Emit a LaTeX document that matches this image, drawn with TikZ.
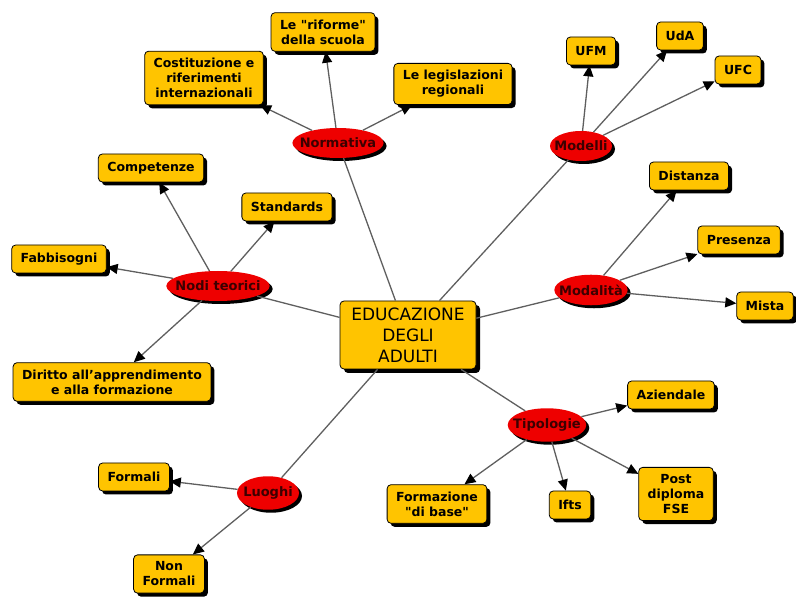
\documentclass[tikz,border=0pt]{standalone}
\usepackage{fontspec}
\setmainfont{DejaVu Sans}
\usetikzlibrary{shapes.geometric,shadows,arrows.meta}

\definecolor{boxyellow}{RGB}{255,196,0}
\definecolor{hubred}{RGB}{238,0,0}
\definecolor{hubtext}{RGB}{60,0,0}
\definecolor{linkgray}{RGB}{95,95,95}

\tikzset{
  leaf/.style={rectangle, rounded corners=4pt, draw=black, line width=0.8pt,
    fill=boxyellow, align=center, inner xsep=9pt, inner ysep=7pt,
    minimum height=28pt, font=\fontsize{12.5}{15}\selectfont\bfseries,
    drop shadow={shadow xshift=3.5pt, shadow yshift=-3.5pt, opacity=1, fill=black}},
  hub/.style={ellipse, fill=hubred, text=hubtext, inner xsep=-6pt, inner ysep=5.5pt,
    minimum width=62pt, minimum height=30pt, font=\fontsize{13}{15}\selectfont\bfseries,
    drop shadow={shadow xshift=3pt, shadow yshift=-3pt, opacity=1, fill=black}},
  root/.style={rectangle, rounded corners=4pt, draw=black, line width=0.8pt,
    fill=boxyellow, align=center, minimum width=136pt, minimum height=68pt,
    font=\fontsize{17}{21}\selectfont,
    drop shadow={shadow xshift=4pt, shadow yshift=-4pt, opacity=1, fill=black}},
  link/.style={draw=linkgray, line width=1.3pt},
  arrow/.style={link, -{Triangle[length=11pt, width=10pt, color=black]}}
}

\begin{document}
\begin{tikzpicture}[x=1pt, y=-1pt]
    \useasboundingbox (0,0) rectangle (796,601);

    % Central concept
    \node[root] (root) at (408,335) {EDUCAZIONE\\DEGLI\\ADULTI};

    % Hubs round the centre
    \foreach \name/\x/\y/\txt in {%
      norm/338/143/Normativa,%
      mod/581/146/Modelli,%
      nodi/218/286/Nodi teorici,%
      modal/591/290/Modalità,%
      tipo/547/425/Tipologie,%
      luog/268/493/Luoghi%
    } {
        \node[hub] (\name) at (\x,\y) {\txt};
    }

    % Leaves
    \foreach \name/\x/\y/\txt in {%
      comp/151/168/Competenze,%
      stand/287/207/Standards,%
      fabb/59/259/Fabbisogni,%
      dir/112/382/{Diritto all'apprendimento\\e alla formazione},%
      cost/204/78/{Costituzione e\\riferimenti\\internazionali},%
      rif/323/32/{Le \textquotedbl riforme\textquotedbl\\della scuola},%
      legis/453/84/{Le legislazioni\\regionali},%
      ufm/591/51/UFM,%
      uda/680/36/UdA,%
      ufc/738/70/UFC,%
      dist/689/176/Distanza,%
      pres/739/240/Presenza,%
      mista/765/306/Mista,%
      azi/671/395/Aziendale,%
      fbase/437/504/{Formazione\\\textquotedbl di base\textquotedbl},%
      ifts/570/505/Ifts,%
      post/676/494/{Post\\diploma\\FSE},%
      form/134/477/Formali,%
      nonf/169/574/{Non\\Formali}%
    } {
        \node[leaf] (\name) at (\x,\y) {\txt};
    }

    % Centre to hubs
    \foreach \h in {norm, mod, nodi, modal, tipo, luog} {
        \draw[link] (root) -- (\h);
    }

    % Hubs to leaves
    \foreach \a/\b in {norm/cost, norm/rif, norm/legis,
                       mod/ufm, mod/uda, mod/ufc,
                       nodi/comp, nodi/stand, nodi/fabb, nodi/dir,
                       modal/dist, modal/pres, modal/mista,
                       tipo/azi, tipo/fbase, tipo/ifts, tipo/post,
                       luog/form, luog/nonf} {
        \draw[arrow] (\a) -- (\b);
    }

\end{tikzpicture}
\end{document}
